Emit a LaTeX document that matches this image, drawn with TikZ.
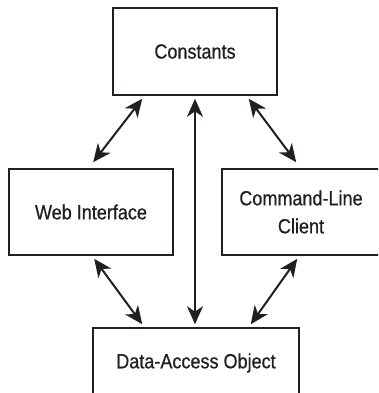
\documentclass[tikz,border=0pt]{standalone}
\usepackage{fontspec}
\setmainfont{Liberation Sans}[FakeStretch=0.88,FakeBold=0.6]
\usetikzlibrary{arrows.meta}
\definecolor{ink}{HTML}{231F20}
\tikzset{
  box/.style={draw=ink, line width=1.6pt, fill=white, inner sep=0pt, align=center,
    font=\fontsize{20.5pt}{28pt}\selectfont, text=ink},
  arr/.style={draw=ink, line width=2pt, {Stealth[length=18pt,width=16pt,inset=5.5pt]}-{Stealth[length=18pt,width=16pt,inset=5.5pt]}}
}
\begin{document}
\begin{tikzpicture}[x=1pt,y=-1pt]
\useasboundingbox (0,0) rectangle (378,393);
\begin{scope}
\clip (0,0) rectangle (378,393);
\node[box, minimum width=164pt, minimum height=87pt] (const) at (195,51.5) {Constants};
\node[box, minimum width=164pt, minimum height=86pt] (web) at (91,212) {Web Interface};
\node[box, minimum width=158pt, minimum height=86pt] (cli) at (301,212) {Command-Line\\Client};
\node[box, minimum width=206pt, minimum height=70pt] (dao) at (196,363) {Data-Access Object};
\end{scope}
\draw[arr] ([xshift=30pt,yshift=-3pt]const.south west) -- ([xshift=85pt,yshift=6pt]web.north west);
\draw[arr] ([xshift=-29pt,yshift=-3pt]const.south east) -- ([xshift=75pt,yshift=6pt]cli.north west);
\draw[arr] ([yshift=-3pt]const.south) -- ([yshift=3pt]const.south |- dao.north);
\draw[arr] ([xshift=86pt,yshift=-3pt]web.south west) -- ([xshift=50pt,yshift=3pt]dao.north west);
\draw[arr] ([xshift=76pt,yshift=-3pt]cli.south west) -- ([xshift=-49pt,yshift=3pt]dao.north east);
\end{tikzpicture}
\end{document}
